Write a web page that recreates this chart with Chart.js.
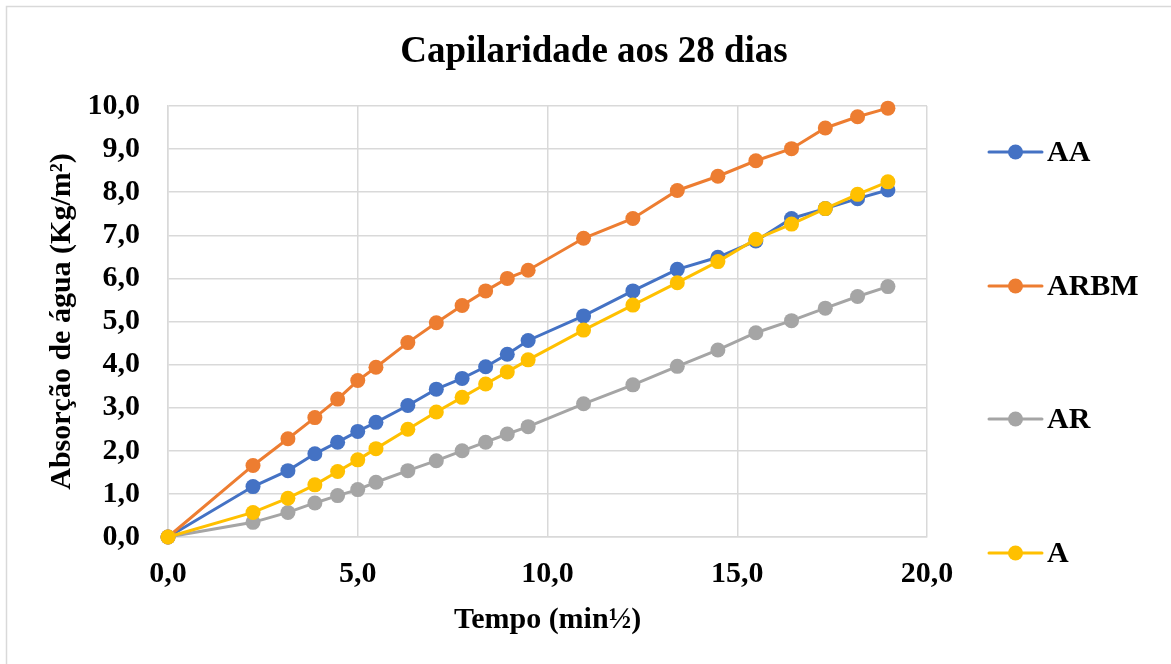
<!DOCTYPE html>
<html>
<head>
<meta charset="utf-8">
<script src="https://cdn.jsdelivr.net/npm/chart.js@4/dist/chart.umd.min.js"></script>
<style>
    body { margin: 0; background: #ffffff; }
    #wrap { width: 1171px; height: 664px; }
</style>
</head>
<body>
<div id="wrap"><canvas id="myChart" width="1171" height="664"></canvas></div>
<script>
// tempo em raiz de minutos (eixo x)
const tempo = [0, 2.24, 3.16, 3.87, 4.47, 5.00, 5.48, 6.32, 7.07, 7.75, 8.37, 8.94, 9.49, 10.95, 12.25, 13.42, 14.49, 15.49, 16.43, 17.32, 18.17, 18.97];

// absorção de água (Kg/m²) por traço
const serieAA = [0, 1.17, 1.54, 1.93, 2.20, 2.45, 2.66, 3.05, 3.43, 3.68, 3.95, 4.24, 4.56, 5.13, 5.71, 6.21, 6.49, 6.87, 7.39, 7.62, 7.85, 8.05];
const serieARBM = [0, 1.66, 2.28, 2.77, 3.20, 3.63, 3.94, 4.51, 4.97, 5.37, 5.71, 6.00, 6.19, 6.93, 7.39, 8.04, 8.37, 8.73, 9.01, 9.49, 9.75, 9.95];
const serieAR = [0, 0.34, 0.57, 0.79, 0.96, 1.10, 1.27, 1.54, 1.77, 2.00, 2.20, 2.39, 2.56, 3.09, 3.53, 3.96, 4.34, 4.74, 5.02, 5.31, 5.58, 5.81];
const serieA = [0, 0.57, 0.90, 1.21, 1.52, 1.79, 2.05, 2.50, 2.90, 3.24, 3.55, 3.83, 4.11, 4.80, 5.38, 5.90, 6.39, 6.91, 7.26, 7.62, 7.95, 8.24];

const nomes = ['AA', 'ARBM', 'AR', 'A'];
const cores = ['#4472C4', '#ED7D31', '#A5A5A5', '#FFC000'];
const valores = [serieAA, serieARBM, serieAR, serieA];

const titulo = 'Capilaridade aos 28 dias';
const tituloX = 'Tempo (min½)';
const tituloY = 'Absorção de água (Kg/m²)';

const fonte = '"Liberation Serif", "Times New Roman", serif';
Chart.defaults.font.family = fonte;
Chart.defaults.font.weight = 'bold';
Chart.defaults.color = '#000000';

// vírgula decimal
function fmt(v) {
    return Number(v).toFixed(1).replace('.', ',');
}

// monta os datasets (A por cima, depois AR, ARBM, AA)
let datasets = [];
nomes.forEach((nome, i) => {
    datasets.push({
        label: nome,
        data: tempo.map((t, j) => ({x: t, y: valores[i][j]})),
        borderColor: cores[i],
        backgroundColor: cores[i],
        pointBackgroundColor: cores[i],
        pointBorderColor: cores[i],
        pointBorderWidth: 0,
        pointRadius: 7.5,
        borderWidth: 3,
        tension: 0,
        clip: false,
        order: nomes.length - i
    });
});

// título, legenda e moldura desenhados à mão
const extras = {
    id: 'extras',
    afterDraw(chart) {
        const ctx = chart.ctx;
        ctx.save();
        // moldura
        ctx.strokeStyle = '#d9d9d9';
        ctx.lineWidth = 1.5;
        ctx.strokeRect(6.5, 6.5, 1400, 1400);
        // título
        ctx.fillStyle = '#000000';
        ctx.font = 'bold 37px ' + fonte;
        ctx.textAlign = 'center';
        ctx.textBaseline = 'middle';
        ctx.fillText(titulo, 594, 52);
        // legenda
        const ys = [152, 286, 419, 553];
        ctx.font = 'bold 30px ' + fonte;
        ctx.textAlign = 'left';
        nomes.forEach((nome, i) => {
            const y = ys[i];
            ctx.strokeStyle = cores[i];
            ctx.lineWidth = 3;
            ctx.lineCap = 'round';
            ctx.beginPath();
            ctx.moveTo(989, y);
            ctx.lineTo(1042, y);
            ctx.stroke();
            ctx.fillStyle = cores[i];
            ctx.beginPath();
            ctx.arc(1015.5, y, 7.5, 0, Math.PI * 2);
            ctx.fill();
            ctx.fillStyle = '#000000';
            ctx.fillText(nome, 1047, y + 1);
        });
        ctx.restore();
    }
};

const ctx = document.getElementById('myChart');
new Chart(ctx, {
    type: 'line',
    data: { datasets: datasets },
    options: {
        responsive: false,
        animation: false,
        devicePixelRatio: 1,
        layout: { padding: { left: 0, right: 244, top: 106, bottom: 0 } },
        plugins: {
            legend: { display: false },
            title: { display: false },
            tooltip: { enabled: false }
        },
        scales: {
            x: {
                type: 'linear',
                min: 0,
                max: 20,
                afterFit: (scale) => { scale.height = 127; },
                ticks: {
                    stepSize: 5,
                    padding: 19,
                    font: { size: 30, weight: 'bold' },
                    callback: (v) => fmt(v)
                },
                grid: { color: '#d9d9d9', lineWidth: 1.5, drawTicks: false },
                border: { color: '#d9d9d9', width: 1.5 },
                title: {
                    display: true,
                    text: tituloX,
                    font: { size: 30, weight: 'bold' },
                    padding: { top: 0, bottom: 26 }
                }
            },
            y: {
                min: 0,
                max: 10,
                afterFit: (scale) => { scale.width = 168; },
                ticks: {
                    stepSize: 1,
                    padding: 28,
                    font: { size: 30, weight: 'bold' },
                    callback: (v) => fmt(v)
                },
                grid: { color: '#d9d9d9', lineWidth: 1.5, drawTicks: false },
                border: { color: '#d9d9d9', width: 1.5 },
                title: {
                    display: true,
                    text: tituloY,
                    font: { size: 30, weight: 'bold' },
                    padding: { top: 44, bottom: 0 }
                }
            }
        }
    },
    plugins: [extras]
});
</script>
</body>
</html>
